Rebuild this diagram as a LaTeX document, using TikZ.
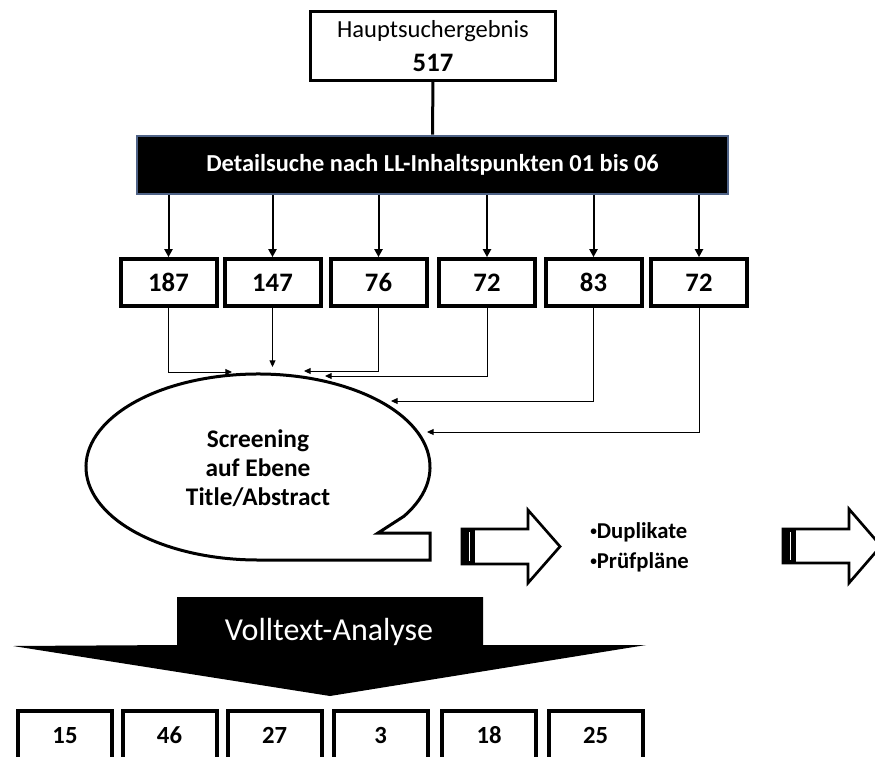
\documentclass[tikz,border=0pt]{standalone}
\usepackage{fontspec}
\setmainfont{Carlito}
\usepackage{tikz}
\usetikzlibrary{arrows.meta, calc, positioning}
\definecolor{detBlue}{RGB}{79,99,135}
\newcommand{\smallbul}{\raisebox{0.25ex}{\fontsize{10}{10}\selectfont•}}

\begin{document}
\begin{tikzpicture}[x=0.75pt, y=0.75pt,
  every node/.style={inner sep=0pt, align=center},
  numbox/.style={draw, line width=3pt, minimum width=72pt, minimum height=35pt, text height=13pt, text depth=0pt, font=\fontsize{20}{22}\selectfont\bfseries},
  resbox/.style={draw, line width=3pt, minimum width=70.5pt, minimum height=36pt, text height=12pt, text depth=0pt, font=\fontsize{18.5}{20}\selectfont\bfseries},
  down/.style={line width=1.5pt, -{Triangle[length=6pt, width=6pt]}},
  feed/.style={line width=0.7pt, -{Triangle[length=5pt, width=4.5pt]}},
  hollow/.style={line width=2pt, line join=miter}]

  \useasboundingbox (0,0) rectangle (875,-757);

  \node[draw, line width=2.25pt, minimum width=184pt, minimum height=52pt, font=\fontsize{18.4}{25}\selectfont] (Top) at (433,-46) {Hauptsuchergebnis\\{\fontsize{20}{25}\selectfont\bfseries 517}};
  \node[draw=detBlue, fill=black, text=white, line width=1.5pt, minimum width=443pt, minimum height=44pt, font=\fontsize{18.3}{20}\selectfont\bfseries] (Det) at (432.5,-165) {Detailsuche nach LL-Inhaltspunkten 01 bis 06};
  \draw[line width=2.25pt] (Top) -- (Det);

  \node[numbox] (N1) at (168.5,-282.5) {187};
  \node[numbox] (N2) at (272.5,-282.5) {147};
  \node[numbox] (N3) at (378.5,-282.5) {76};
  \node[numbox] (N4) at (487,-282.5) {72};
  \node[numbox] (N5) at (593.5,-282.5) {83};
  \node[numbox] (N6) at (699,-282.5) {72};

  \draw[down] (N1.north |- Det.south) -- (N1.north);
  \draw[down] (N2.north |- Det.south) -- (N2.north);
  \draw[down] (N3.north |- Det.south) -- (N3.north);
  \draw[down] (N4.north |- Det.south) -- (N4.north);
  \draw[down] (N5.north |- Det.south) -- (N5.north);
  \draw[down] (N6.north |- Det.south) -- (N6.north);

  % speech bubble
  \coordinate (Bc) at (258,-467);
  \draw[line width=2.25pt, line join=miter] ($(Bc)+(-32:172 and 93)$) arc[start angle=-32, end angle=270, x radius=172, y radius=93] -- (430,-560) -- (430,-533) -- (378,-533) -- cycle;
  \node[font=\fontsize{19}{21.75}\selectfont\bfseries] (Scr) at (258,-468) {Screening\\auf Ebene\\Title/Abstract};

  \coordinate (S1) at (232,-372);
  \coordinate (S2) at (272.5,-367);
  \coordinate (S3) at (304,-371);
  \coordinate (S4) at (325,-376);
  \coordinate (S5) at (391,-401);
  \coordinate (S6) at (427,-432);
  \draw[feed] (N1.south) |- (S1);
  \draw[feed] (N2.south) -- (S2);
  \draw[feed] (N3.south) |- (S3);
  \draw[feed] (N4.south) |- (S4);
  \draw[feed] (N5.south) |- (S5);
  \draw[feed] (N6.south) |- (S6);

  \draw[hollow] (462,-529) -- (528,-529) -- (528,-510) -- (560,-546.5) -- (528,-583) -- (528,-564) -- (462,-564) -- cycle;
  \fill (462,-529) rectangle (475,-564);
  \draw[white, line width=0.9pt] (469.5,-532) -- (469.5,-561);
  \node[anchor=west, align=left, font=\fontsize{17}{22.5}\selectfont\bfseries] (Dup) at (590,-547) {\smallbul Duplikate\\\smallbul Prüfpläne};
  \draw[hollow] (783,-529) -- (849,-529) -- (849,-509) -- (881,-546) -- (849,-583) -- (849,-563) -- (783,-563) -- cycle;
  \fill (783,-529) rectangle (796,-563);
  \draw[white, line width=0.9pt] (790.5,-532) -- (790.5,-560);

  \fill (177,-597) -- (483,-597) -- (483,-645) -- (646,-645) -- (330,-696) -- (13,-646) -- (177,-645) -- cycle;
  \node[text=white, font=\fontsize{24}{26}\selectfont] (Vol) at (329,-632) {Volltext-Analyse};

  \node[resbox] (R1) at (65,-735) {15};
  \node[resbox] (R2) at (169.5,-735) {46};
  \node[resbox] (R3) at (274.5,-735) {27};
  \node[resbox] (R4) at (380.5,-735) {3};
  \node[resbox] (R5) at (489,-735) {18};
  \node[resbox] (R6) at (595.5,-735) {25};

\end{tikzpicture}
\end{document}
